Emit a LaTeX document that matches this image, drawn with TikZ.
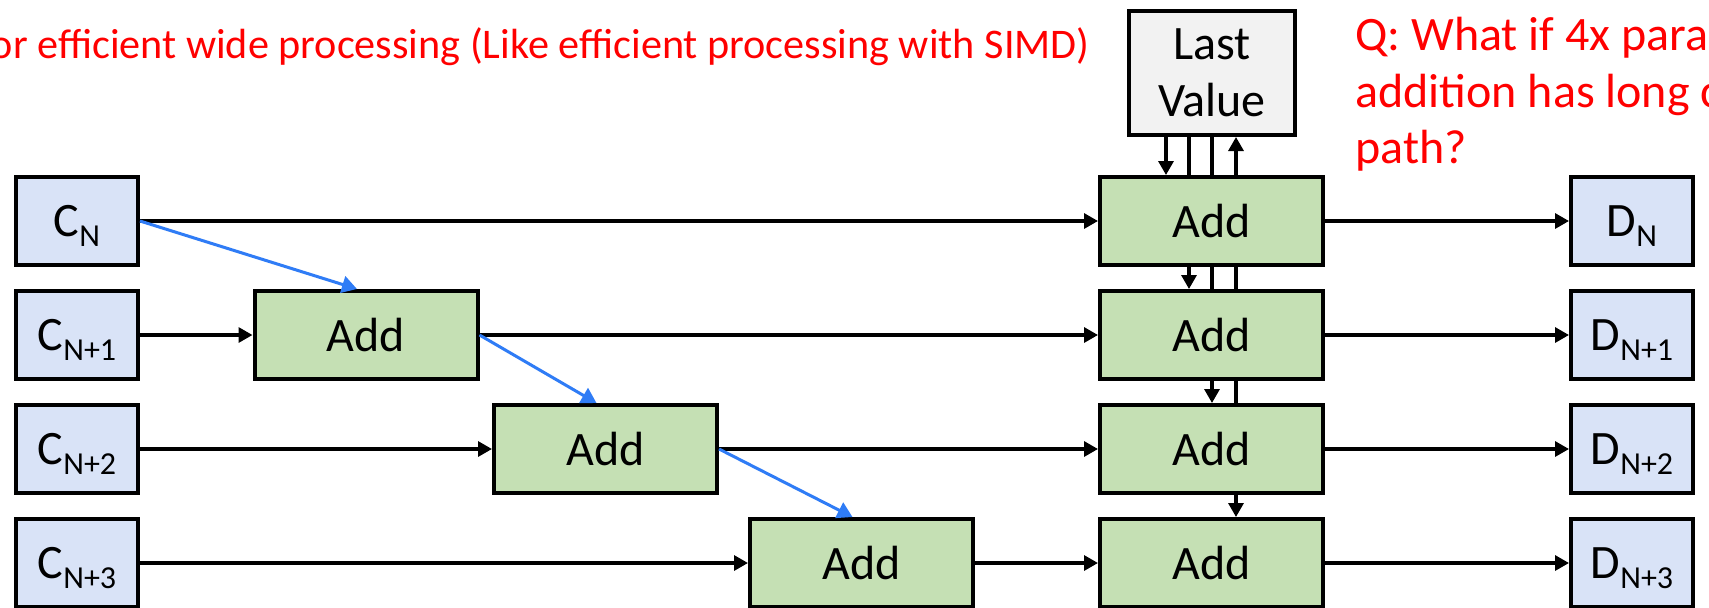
\documentclass[tikz,border=0pt]{standalone}
\usepackage{fontspec}
\setmainfont{Carlito}
\usetikzlibrary{arrows.meta}
\definecolor{cfill}{HTML}{D9E3F7}
\definecolor{addfill}{HTML}{C5E0B4}
\definecolor{lvfill}{HTML}{F2F2F2}
\definecolor{bluearr}{HTML}{2F7CF6}
\definecolor{qred}{HTML}{FF0000}
\newcommand{\sbs}[2]{#1\raisebox{-5pt}[0pt][0pt]{\fontsize{16}{16}\selectfont #2}}
\begin{document}
\begin{tikzpicture}[x=0.5pt,y=-0.5pt,
  every node/.style={inner sep=0pt},
  cdbox/.style={draw,line width=2pt,fill=cfill,minimum width=61pt,minimum height=44pt,font=\fontsize{24}{28}\selectfont},
  addbox/.style={draw,line width=2pt,fill=addfill,minimum width=111.5pt,minimum height=44pt,font=\fontsize{24}{28}\selectfont},
  lvbox/.style={draw,line width=2pt,fill=lvfill,minimum width=83pt,minimum height=62pt,align=center,font=\fontsize{24}{28.5}\selectfont},
  conn/.style={line width=1.6pt},
  arr/.style={conn,-{Triangle[length=7pt,width=7.5pt]}},
  rarr/.style={conn,{Triangle[length=7pt,width=7.5pt]}-},
  barr/.style={line width=1.5pt,draw=bluearr,-{Triangle[length=7.5pt,width=8.5pt]}},
  rtext/.style={text=qred}
]
\path[use as bounding box, fill=white] (0,0) rectangle (1709,607);

% input boxes
\node[cdbox] (c1) at (77,221) {\sbs{C}{N}};
\node[cdbox] (c2) at (77,335) {\sbs{C}{N+1}};
\node[cdbox] (c3) at (77,449) {\sbs{C}{N+2}};
\node[cdbox] (c4) at (77,563) {\sbs{C}{N+3}};

% staggered adders
\node[addbox] (a1) at (366,335) {Add};
\node[addbox] (a2) at (605.5,449) {Add};
\node[addbox] (a3) at (861.5,563) {Add};

% right adder column
\node[addbox] (r1) at (1211.5,221) {Add};
\node[addbox] (r2) at (1211.5,335) {Add};
\node[addbox] (r3) at (1211.5,449) {Add};
\node[addbox] (r4) at (1211.5,563) {Add};

% outputs
\node[cdbox] (d1) at (1632,221) {\sbs{D}{N}};
\node[cdbox] (d2) at (1632,335) {\sbs{D}{N+1}};
\node[cdbox] (d3) at (1632,449) {\sbs{D}{N+2}};
\node[cdbox] (d4) at (1632,563) {\sbs{D}{N+3}};

% last value
\node[lvbox] (lv) at (1212,73) {Last\\Value};

% texts
\node[rtext, anchor=base east, font=\fontsize{21.1}{25}\selectfont] (t1) at (1090,58) {or efficient wide processing (Like efficient processing with SIMD)};
\node[rtext, anchor=base west, font=\fontsize{24}{28.5}\selectfont] (q1) at (1355,50) {Q: What if 4x para};
\node[rtext, anchor=base west, font=\fontsize{24}{28.5}\selectfont] (q2) at (1355,107) {addition has long c};
\node[rtext, anchor=base west, font=\fontsize{24}{28.5}\selectfont] (q3) at (1355,163) {path?};

% horizontal connectors
\draw[arr] (c1.east) -- (r1.west);
\draw[arr] (c2.east) -- (a1.west);
\draw[arr] (a1.east) -- (r2.west);
\draw[arr] (c3.east) -- (a2.west);
\draw[arr] (a2.east) -- (r3.west);
\draw[arr] (c4.east) -- (a3.west);
\draw[arr] (a3.east) -- (r4.west);
\draw[arr] (r1.east) -- (d1.west);
\draw[arr] (r2.east) -- (d2.west);
\draw[arr] (r3.east) -- (d3.west);
\draw[arr] (r4.east) -- (d4.west);

% blue carry arrows
\draw[barr] (c1.east) -- ([xshift=-4.5pt]a1.north);
\draw[barr] (a1.east) -- ([xshift=-4.5pt]a2.north);
\draw[barr] (a2.east) -- ([xshift=-4.5pt]a3.north);

% vertical connectors
\coordinate (v1) at (1166,0);
\coordinate (v2) at (1189,0);
\coordinate (v3) at (1212,0);
\coordinate (v4) at (1236,0);
\draw[arr]  (lv.south -| v1) -- (r1.north -| v1);
\draw[conn] (lv.south -| v2) -- (r1.north -| v2);
\draw[arr]  (r1.south -| v2) -- (r2.north -| v2);
\draw[conn] (lv.south -| v3) -- (r1.north -| v3);
\draw[conn] (r1.south -| v3) -- (r2.north -| v3);
\draw[arr]  (r2.south -| v3) -- (r3.north -| v3);
\draw[rarr] (lv.south -| v4) -- (r1.north -| v4);
\draw[conn] (r1.south -| v4) -- (r2.north -| v4);
\draw[conn] (r2.south -| v4) -- (r3.north -| v4);
\draw[arr]  (r3.south -| v4) -- (r4.north -| v4);
\end{tikzpicture}
\end{document}
